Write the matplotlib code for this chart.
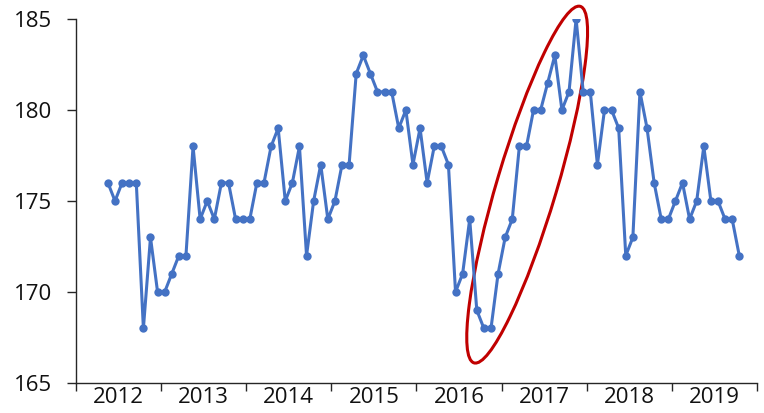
import matplotlib
matplotlib.use("Agg")
import matplotlib.pyplot as plt
import numpy as np
from matplotlib.patches import Ellipse
from matplotlib.transforms import ScaledTranslation

# Monthly values, May 2012 .. Oct 2019
values = [176, 175, 176, 176, 176, 168, 173, 170, 170, 171, 172, 172,
          178, 174, 175, 174, 176, 176, 174, 174, 174, 176, 176, 178,
          179, 175, 176, 178, 172, 175, 177, 174, 175, 177, 177, 182,
          183, 182, 181, 181, 181, 179, 180, 177, 179, 176, 178, 178,
          177, 170, 171, 174, 169, 168, 168, 171, 173, 174, 178, 178,
          180, 180, 181.5, 183, 180, 181, 185, 181, 181, 177, 180, 180,
          179, 172, 173, 181, 179, 176, 174, 174, 175, 176, 174, 175,
          178, 175, 175, 174, 174, 172]
years = ["2012", "2013", "2014", "2015", "2016", "2017", "2018", "2019"]
start_month = 4  # May 2012 (0-based month offset from Jan 2012)

plt.rcParams['font.family'] = ['Open Sans', 'DejaVu Sans']

fig = plt.figure(figsize=(7.64, 4.13), dpi=100)
ax = fig.add_axes([76/764, 30/413, (757-76)/764, (383-19)/413])

x = np.arange(len(values)) + start_month + 0.5
ax.plot(x, values, color='#4472C4', lw=2.2, marker='o', ms=6,
        markeredgewidth=0, solid_joinstyle='round')

ax.set_xlim(0, 12 * len(years))
ax.set_ylim(165, 185)
ax.set_yticks([165, 170, 175, 180, 185])

ax.set_xticks(np.arange(0, 12 * len(years) + 1, 12))
ax.set_xticklabels([])
ax.set_xticks(np.arange(6, 12 * len(years), 12), minor=True)
ax.set_xticklabels(years, minor=True)
ax.tick_params(axis='x', which='major', direction='out', length=6, width=1, color='#262626')
ax.tick_params(axis='x', which='minor', length=0, pad=3, labelsize=16, labelcolor='#111111')
ax.tick_params(axis='y', direction='out', length=6.5, width=1, color='#262626', pad=11,
               labelsize=16, labelcolor='#111111')

for s in ['top', 'right']:
    ax.spines[s].set_visible(False)
for s in ['left', 'bottom']:
    ax.spines[s].set_color('#262626')
    ax.spines[s].set_linewidth(1)

# Red highlight ellipse (center in data coordinates, shape in inches)
cx, cy = 63.6, 175.9
ell = Ellipse((0, 0), 3.72, 0.60, angle=73.4, fill=False, edgecolor='#C00000', lw=2.2,
              transform=fig.dpi_scale_trans + ScaledTranslation(cx, cy, ax.transData),
              clip_on=False)
ax.add_patch(ell)

fig.savefig('out.png', dpi=100)
